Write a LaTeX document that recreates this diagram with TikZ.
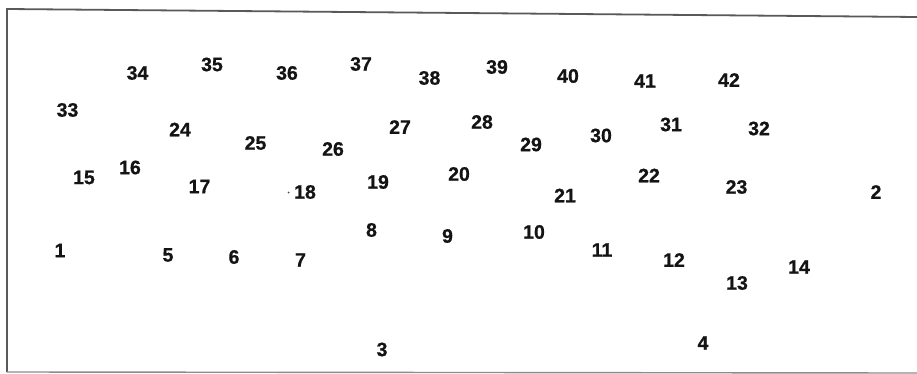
\documentclass[tikz,border=0pt]{standalone}
\usepackage{fontspec}
\setmainfont{Liberation Sans}
\newfontfamily\numfont[BoldFeatures={FakeBold=0.7}]{Liberation Sans}
\begin{document}
\begin{tikzpicture}[x=1pt,y=-1pt,
  num/.style={inner sep=0pt, font=\numfont\fontsize{19.5}{21}\selectfont\bfseries, text=black!92},
  frameline/.style={draw=black!65, line width=1.8pt}]
\useasboundingbox (0,0) rectangle (917,374);
\fill[white] (0,0) rectangle (917,374);
% frame
\coordinate (tl) at (7,9);
\coordinate (tr) at (917,17);
\coordinate (bl) at (7,372);
\coordinate (br) at (917,373);
\draw[frameline] (tr) -- (tl) -- (bl);
\draw[draw=black!45, line width=1.4pt] (bl) -- (br);
% numbers
\foreach \n/\x/\y in {
 34/137.5/73, 35/212/64.5, 36/287/73, 37/361/64, 38/429.5/78, 39/497/67,
 40/568/76, 41/645/81, 42/729/80,
 33/67.5/110, 24/180/129.5, 25/255.5/143, 26/333/149, 27/400/127,
 28/482/122, 29/531/144.5, 30/601/135.5, 31/671/124.5, 32/759/128.5,
 15/84/177.5, 16/130/167.5, 17/199.5/186.5, 18/305/192, 19/378/182,
 20/459/174, 21/565/195.5, 22/649/175.5, 23/736.5/187, 2/876/192,
 8/371.5/230, 9/447.5/236, 10/534/232, 11/602/250, 12/674/260,
 13/737/283, 14/799/267, 1/60/250.5, 5/168/255, 6/234/257, 7/300.5/260,
 3/382/349.5, 4/703/343}
 \node[num] (n\n) at (\x,\y) {\n};
\fill[black!70] (288.5,192.5) circle (1pt);
\end{tikzpicture}
\end{document}
